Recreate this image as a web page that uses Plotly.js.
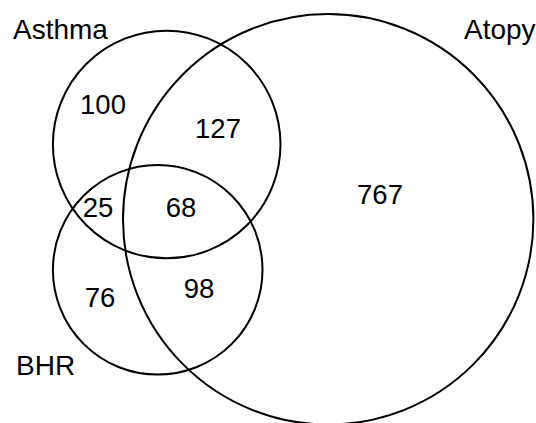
<!DOCTYPE html>
<html>
<head>
<meta charset="utf-8">
<script src="https://cdn.plot.ly/plotly-3.0.1.min.js"></script>
<style>html,body{margin:0;padding:0;background:#fff;}#chart{width:536px;height:423px;}</style>
</head>
<body>
<div id="chart"></div>
<script>
// Data
const setNames = ["Asthma", "Atopy", "BHR"];
const regionNames = ["Asthma only", "Asthma+Atopy", "Atopy only", "Asthma+BHR", "All three", "BHR only", "Atopy+BHR"];
const regionCounts = [100, 127, 767, 25, 68, 76, 98];

// Layout geometry (pixel-like units)
const circles = [
  {cx: 166.7, cy: 144.5, r: 113.8},  // Asthma
  {cx: 328.2, cy: 219.3, r: 205.2},  // Atopy
  {cx: 157.7, cy: 269.8, r: 104.8}   // BHR
];
const setLabelPos = [[60.5, 29], [499.5, 29], [45, 365]];
const regionPos = [[103, 107], [218, 131], [380, 197], [98, 210], [181, 210], [100, 300], [199, 291]];

const FONT = "Liberation Sans, Arial, Helvetica, sans-serif";

const traces = [{
  type: "scatter",
  mode: "text",
  x: regionPos.map(p => p[0]),
  y: regionPos.map(p => p[1]),
  text: regionCounts.map(String),
  customdata: regionNames,
  textposition: "middle center",
  textfont: {family: FONT, size: 27.5, color: "#000"},
  hoverinfo: "skip",
  showlegend: false
}];

const shapes = circles.map(c => ({
  type: "circle", xref: "x", yref: "y",
  x0: c.cx - c.r, x1: c.cx + c.r, y0: c.cy - c.r, y1: c.cy + c.r,
  line: {color: "#000", width: 2}, fillcolor: "rgba(0,0,0,0)"
}));

const annotations = setNames.map((n, i) => ({
  x: setLabelPos[i][0], y: setLabelPos[i][1], xref: "x", yref: "y",
  text: n, showarrow: false, xanchor: "center", yanchor: "middle",
  font: {family: FONT, size: 28, color: "#000"}
}));

const layout = {
  width: 536, height: 423,
  margin: {l: 0, r: 0, t: 0, b: 0},
  paper_bgcolor: "#fff", plot_bgcolor: "#fff",
  xaxis: {range: [0, 536], visible: false, fixedrange: true},
  yaxis: {range: [423, 0], visible: false, fixedrange: true},
  shapes: shapes,
  annotations: annotations,
  showlegend: false
};

Plotly.newPlot("chart", traces, layout, {staticPlot: true, displayModeBar: false});
</script>
</body>
</html>
